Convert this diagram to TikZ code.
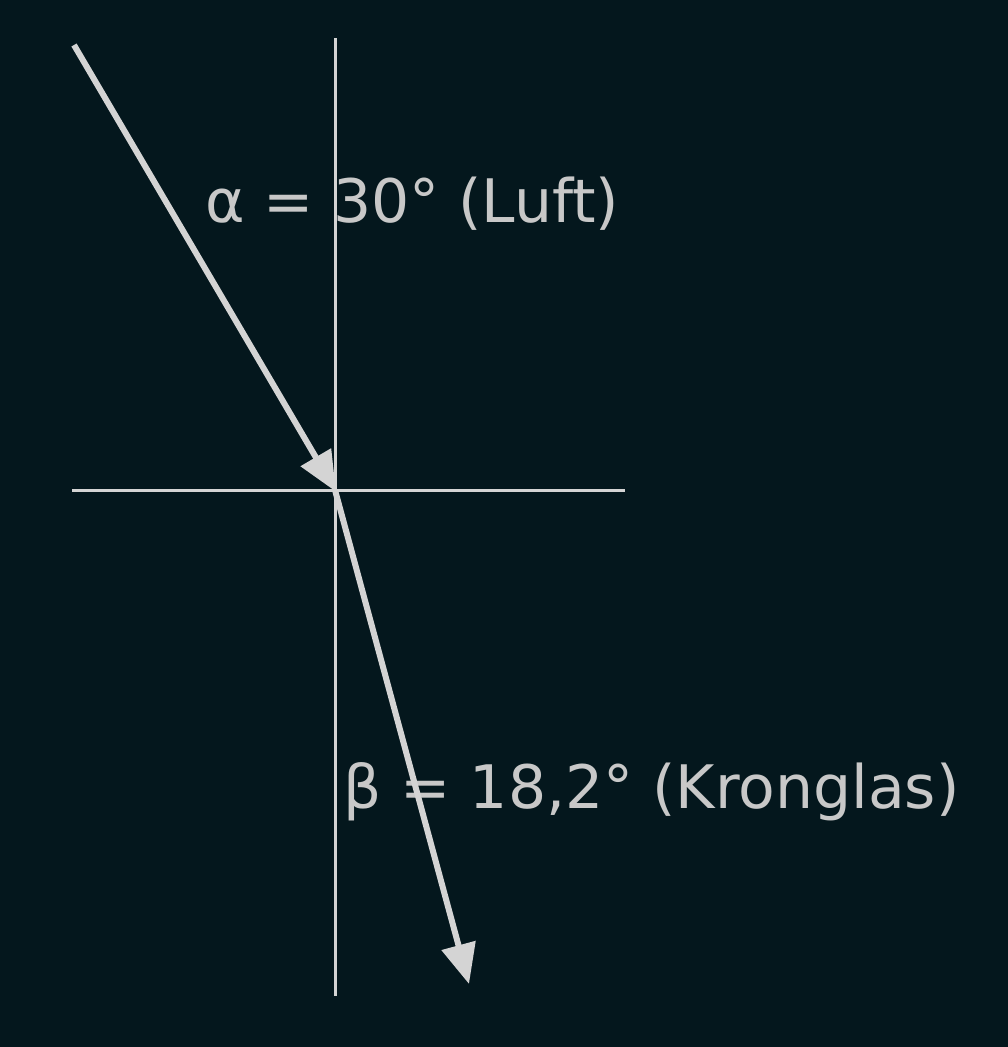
\documentclass[tikz,border=0pt]{standalone}
\usepackage{fontspec}
\setmainfont{DejaVu Sans}
\usetikzlibrary{arrows.meta}
\definecolor{bg}{RGB}{4,23,29}
\definecolor{ln}{RGB}{212,212,212}
\definecolor{tx}{RGB}{200,200,200}
\tikzset{
  axis/.style={draw=ln, line width=3pt},
  ray/.style={draw=ln, line width=6pt, -{Triangle[length=40pt,width=34pt]}},
  lbl/.style={text=tx, font=\fontsize{60pt}{72pt}\selectfont, anchor=base west, inner sep=0pt}
}
\begin{document}
\begin{tikzpicture}[x=1pt,y=-1pt]
\fill[bg] (0,0) rectangle (1008,1047);
\useasboundingbox (0,0) rectangle (1008,1047);
\coordinate (vtop) at (335,38);
\coordinate (vbot) at (335,996);
\coordinate (hl) at (72,490);
\coordinate (hr) at (625,490);
\coordinate (o) at (335,490);
\coordinate (s) at (74,45);
\coordinate (t) at (469,984);
\draw[axis] (vtop) -- (vbot);
\draw[axis] (hl) -- (hr);
\node[lbl] (a) at (205,222) {α = 30° (Luft)};
\node[lbl] (b) at (343,808) {β = 18,2° (Kronglas)};
\draw[ray, shorten >=-2pt] (s) -- (o);
\draw[ray] (o) -- (t);
\end{tikzpicture}
\end{document}
